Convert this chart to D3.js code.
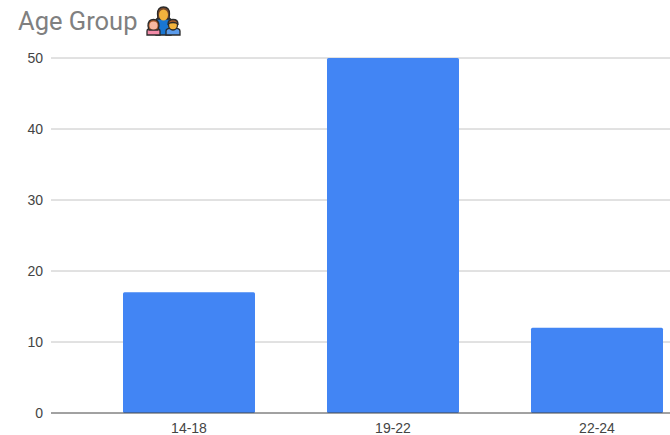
<!DOCTYPE html>
<html><head><meta charset="utf-8">
<script src="https://cdn.jsdelivr.net/npm/d3@7"></script>
<style>html,body{margin:0;padding:0;background:#fff;overflow:hidden}svg{display:block}</style>
</head><body><svg id="c" width="670" height="435"></svg>
<script>
const categories = ["14-18","19-22","22-24"];
const values = [17,50,12];
const yTicks = [0,10,20,30,40,50];
const title = "Age Group";

const svg = d3.select("#c");
const titleFont = "Roboto, Arial, sans-serif";
const font = "'Liberation Sans', Arial, sans-serif";
const x = d3.scaleBand().domain(categories).range([87,699]).paddingInner(0.353).paddingOuter(0.1765);
const y = d3.scaleLinear().domain([0,50]).range([413,58]);

svg.append("text").attr("x",18).attr("y",30).attr("font-family",titleFont).attr("font-size",25.5).attr("fill","#808080").text(title);

// family icon
const ic = svg.append("g").attr("transform","translate(146,5)");
const stroke = {stroke:"#2b2b2b","stroke-width":1.3};
function shape(el,attrs){const s=ic.append(el);Object.entries({...stroke,...attrs}).forEach(([k,v])=>s.attr(k,v));return s;}
shape("path",{d:"M10 16 Q10 12 17.5 12 Q25 12 25 16 L25 30 L10 30 Z",fill:"#1976d2"});
shape("path",{d:"M11.5 9 Q11.5 2 17.5 2 Q23.5 2 23.5 9 L23 14 L12 14 Z",fill:"#7b4a2a"});
shape("ellipse",{cx:17.5,cy:10,rx:4.5,ry:5.5,fill:"#f2b33d",stroke:"none"});
shape("path",{d:"M1 30 L1 26 Q1 23 7.5 23 Q14 23 14 26 L14 30 Z",fill:"#f28ba8"});
shape("path",{d:"M2 21 Q2 14.5 7.5 14.5 Q13 14.5 13 21 L12 25 L3 25 Z",fill:"#a85a2a"});
shape("ellipse",{cx:7.5,cy:20.5,rx:4,ry:4,fill:"#f6b8a0",stroke:"none"});
shape("path",{d:"M20 30 L20 26 Q20 23 27 23 Q34 23 34 26 L34 30 Z",fill:"#5b9bea"});
shape("ellipse",{cx:27,cy:20,rx:4.5,ry:5,fill:"#f2b33d"});
shape("path",{d:"M22 19 Q22 14.5 27 14.5 Q32 14.5 32 19 Q30 17.5 27 17.5 Q24 17.5 22 19 Z",fill:"#a85a2a"});

const grid = svg.append("g");
grid.selectAll("line").data(yTicks.filter(d=>d!==0)).join("line")
  .attr("x1",51).attr("x2",670).attr("y1",d=>y(d)).attr("y2",d=>y(d))
  .attr("stroke","#c4c4c4").attr("stroke-width",1);

svg.append("g").selectAll("rect").data(values).join("rect")
  .attr("x",(d,i)=>x(categories[i])).attr("width",x.bandwidth())
  .attr("y",d=>y(d)).attr("height",d=>y(0)-y(d))
  .attr("rx",1.5).attr("fill","#4285f4");

svg.append("line").attr("x1",51).attr("x2",670).attr("y1",y(0)).attr("y2",y(0)).attr("stroke","#444").attr("stroke-width",1);

svg.append("g").selectAll("text").data(yTicks).join("text")
  .attr("x",43).attr("y",d=>y(d)+4.5).attr("text-anchor","end")
  .attr("font-family",font).attr("font-size",14).attr("fill","#444").text(d=>d);

svg.append("g").selectAll("text").data(categories).join("text")
  .attr("x",d=>x(d)+x.bandwidth()/2).attr("y",433).attr("text-anchor","middle")
  .attr("font-family",font).attr("font-size",14).attr("fill","#444").text(d=>d);
</script></body></html>
